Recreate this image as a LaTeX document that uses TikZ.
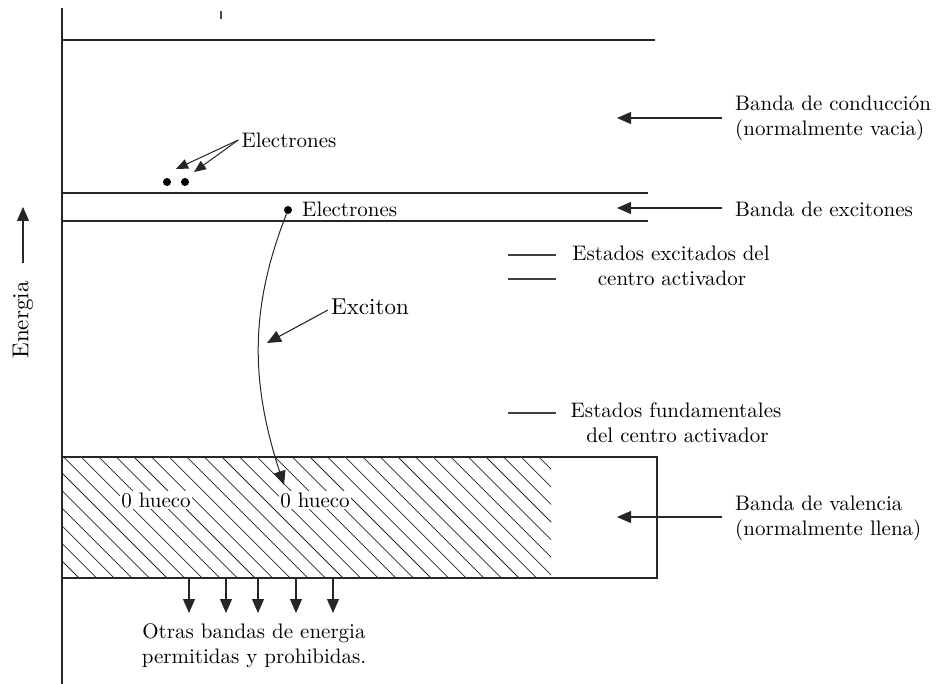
\documentclass[tikz,border=0pt]{standalone}
\usepackage{fontspec}
\setmainfont{lmroman10-regular.otf}
\usetikzlibrary{arrows.meta}

\begin{document}
\begin{tikzpicture}[x=1pt,y=-1pt,font=\fontsize{21}{25}\selectfont,
  band/.style={line width=1.1pt,draw=black!85},
  level/.style={line width=1.1pt,draw=black!75},
  pointer/.style={line width=1.1pt,draw=black!85,-{Triangle[length=14pt,width=12pt]}},
  smallpointer/.style={line width=1pt,draw=black!85,-{Triangle[length=12pt,width=10pt]}},
  electron/.style={circle,fill=black,inner sep=0pt,minimum size=8pt},
  hatchline/.style={line width=0.75pt,draw=black!85}]
\useasboundingbox (0,0) rectangle (937,684);

% axis and energy
\coordinate (axtop) at (62,8);
\coordinate (axbot) at (62,684);
\draw[band] (axtop) -- (axbot);
\coordinate (entail) at (23,263);
\coordinate (enhead) at (23,207);
\draw[pointer] (entail) -- (enhead);
\node[rotate=90,font=\fontsize{23}{27}\selectfont] (energia) at (23,320) {Energia};
\coordinate (ticka) at (221,11);
\coordinate (tickb) at (221,19);
\draw[line width=1.5pt,black!70] (ticka) -- (tickb);

% conduction band
\coordinate (cbl) at (62,40);
\coordinate (cbr) at (655,40);
\draw[band] (cbl) -- (cbr);

% exciton band
\coordinate (xbl1) at (62,193);
\coordinate (xbr1) at (648,193);
\coordinate (xbl2) at (62,221);
\coordinate (xbr2) at (648,221);
\draw[band] (xbl1) -- (xbr1);
\draw[band] (xbl2) -- (xbr2);

% electrons in conduction band
\node[electron] (ea) at (167,182) {};
\node[electron] (eb) at (185,182) {};
\node[inner sep=3pt] (elec1) at (289,140) {Electrones};
\coordinate (tipa) at (176,169);
\coordinate (tipb) at (194,172);
\draw[smallpointer] (elec1.west) -- (tipa);
\draw[smallpointer] (elec1.west) -- (tipb);

% exciton electron and path
\node[electron] (ex) at (288,210) {};
\node[anchor=west,inner sep=2pt] (elec2) at (300,209) {Electrones};
\coordinate (hole2) at (284,485);
\draw[pointer,line width=1pt] (ex) .. controls (250,307) and (250,381) .. (hole2);
\node[font=\fontsize{23}{27}\selectfont,inner sep=3pt] (exciton) at (370,307) {Exciton};
\coordinate (exctip) at (267,343);
\draw[pointer] (exciton.west) ++(0,3) -- (exctip);

% activator levels
\coordinate (la1) at (508,255);
\coordinate (lb1) at (556,255);
\coordinate (la2) at (508,279);
\coordinate (lb2) at (556,279);
\coordinate (la3) at (508,413);
\coordinate (lb3) at (556,413);
\draw[level] (la1) -- (lb1);
\draw[level] (la2) -- (lb2);
\draw[level] (la3) -- (lb3);
\node[align=center] (excstates) at (671,266) {Estados excitados del\\ \hspace*{2pt}centro activador};
\node[align=center] (fundstates) at (676,423) {Estados fundamentales\\ \hspace*{3pt}del centro activador};

% valence band
\begin{scope}
  \clip (62,457) rectangle (551,578);
  \foreach \i in {-130,-112.4,...,560}
    \draw[hatchline] (\i,457) -- ++(130,130);
\end{scope}
\coordinate (vbtl) at (62,457);
\coordinate (vbbr) at (657,578);
\draw[band] (vbtl) rectangle (vbbr);
\node[fill=white,inner sep=1pt] (hueco1) at (156,500) {0 hueco};
\node[fill=white,inner sep=1pt] (hueco2) at (315,500) {0 hueco};

% other bands
\foreach \x [count=\k] in {189,226,258,296,333}{
  \coordinate (ob\k) at (\x,578);
  \coordinate (obt\k) at (\x,613);
  \draw[pointer] (ob\k) -- (obt\k);
}
\node[align=center] (otras) at (254,646) {Otras bandas de energia\\permitidas y prohibidas.};

% labels on the right
\node[anchor=west,align=left,inner sep=2pt] (lcond) at (733,118) {Banda de conducción\\(normalmente vacia)};
\coordinate (ccond) at (722,118);
\coordinate (tcond) at (617,118);
\draw[pointer] (ccond) -- (tcond);
\node[anchor=west,inner sep=2pt] (lexc) at (733,209) {Banda de excitones};
\coordinate (cexc) at (722,208);
\coordinate (texc) at (617,208);
\draw[pointer] (cexc) -- (texc);
\node[anchor=west,align=left,inner sep=2pt] (lval) at (733,518) {Banda de valencia\\(normalmente llena)};
\coordinate (cval) at (722,517);
\coordinate (tval) at (617,517);
\draw[pointer] (cval) -- (tval);

\end{tikzpicture}
\end{document}
